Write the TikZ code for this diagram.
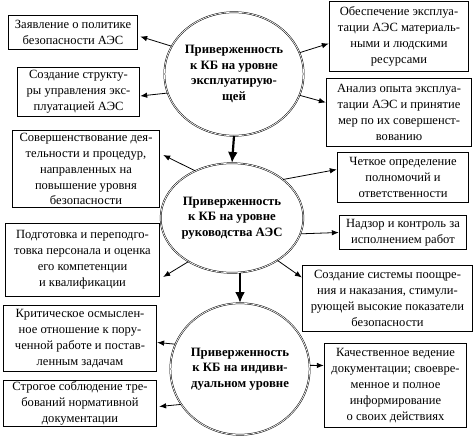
\documentclass[tikz,border=0pt]{standalone}
\usepackage{fontspec}
\setmainfont{Liberation Serif}
\usetikzlibrary{arrows.meta,calc,shapes.geometric}
\begin{document}
\begin{tikzpicture}[x=1bp,y=-1bp,
  box/.style={draw, line width=0.9pt, align=center, inner sep=0pt, font=\fontsize{12.6}{16}\selectfont},
  oval/.style={ellipse, draw, line width=0.5pt, double, double distance=0.7pt, align=center, inner sep=0pt, font=\bfseries\fontsize{12.8}{15.5}\selectfont},
  arr/.style={-{Latex[length=7pt,width=5.5pt]}, line width=0.8pt},
  big/.style={-{Latex[length=11pt,width=10pt]}, line width=2.2pt}]
\useasboundingbox (0,0) rectangle (474,439);
% ellipses
\node[oval, minimum width=132, minimum height=124] (E1) at (234,74) {Приверженность\\к КБ на уровне\\эксплуатирую-\\щей};
\node[oval, minimum width=126, minimum height=110] (E2) at (232,218) {Приверженность\\к КБ на уровне\\руководства АЭС};
\node[oval, minimum width=134, minimum height=132] (E3) at (240,369) {Приверженность\\к КБ на индиви-\\дуальном уровне};
% left boxes
\node[box, minimum width=130, minimum height=35] (L1) at (73,32.5) {Заявление о политике\\безопасности АЭС};
\node[box, minimum width=123, minimum height=50] (L2) at (78.5,92) {Создание структу-\\ры управления экс-\\плуатацией АЭС};
\node[box, minimum width=148, minimum height=78] (L3) at (86,169) {Совершенствование дея-\\тельности и процедур,\\направленных на\\повышение уровня\\безопасности};
\node[box, minimum width=155, minimum height=74] (L4) at (82.5,260) {Подготовка и переподго-\\товка персонала и оценка\\его компетенции\\и квалификации};
\node[box, minimum width=154, minimum height=67] (L5) at (80,338.5) {Критическое осмыслен-\\ное отношение к пору-\\ченной работе и постав-\\ленным задачам};
\node[box, minimum width=154, minimum height=47] (L6) at (80,403.5) {Строгое соблюдение тре-\\бований нормативной\\документации};
% right boxes
\node[box, minimum width=140, minimum height=71] (R1) at (399,36.5) {Обеспечение эксплуа-\\тации АЭС материаль-\\ными и людскими\\ресурсами};
\node[box, minimum width=146, minimum height=69] (R2) at (399,112.5) {Анализ опыта эксплуа-\\тации АЭС и принятие\\мер по их совершенст-\\вованию};
\node[box, minimum width=132, minimum height=51] (R3) at (403,177.5) {Четкое определение\\полномочий и\\ответственности};
\node[box, minimum width=128, minimum height=35] (R4) at (403,232.5) {Надзор и контроль за\\исполнением работ};
\node[box, minimum width=171, minimum height=67] (R5) at (387.5,298.5) {Создание системы поощре-\\ния и наказания, стимули-\\рующей высокие показатели\\безопасности};
\node[box, minimum width=143, minimum height=85] (R6) at (395.5,385.5) {Качественное ведение\\документации; своевре-\\менное и полное\\информирование\\о своих действиях};
% arrows
\draw[arr] (E1.156) -- ($(L1.east)+(2,4)$);
\draw[arr] (E1.196) -- ($(L2.east)+(0,4)$);
\draw[arr] (E1.18) -- ($(R1.west)+(0,7)$);
\draw[arr] (E1.342) -- ($(R2.west)+(0,-10)$);
\draw[big] (E1.south) -- (E2.north);
\draw[arr] (E2.128) -- ($(L3.east)+(3,-14)$);
\draw[arr] (E2.225) -- ($(L4.east)+(3,17)$);
\draw[arr] (E2.37) -- ($(R3.west)+(0,-8)$);
\draw[arr] (E2.347) -- (R4.west);
\draw[arr] (E2.317) -- ($(R5.west)+(0,-21)$);
\draw[big] (E3.north |- E2.south) -- (E3.north);
\draw[arr] (E3.159) -- ($(L5.east)+(0,4)$);
\draw[arr] (E3.211) -- ($(L6.east)+(2,3)$);
\draw[arr] (E3.3) -- ($(R6.west)+(0,-20)$);
\end{tikzpicture}
\end{document}
